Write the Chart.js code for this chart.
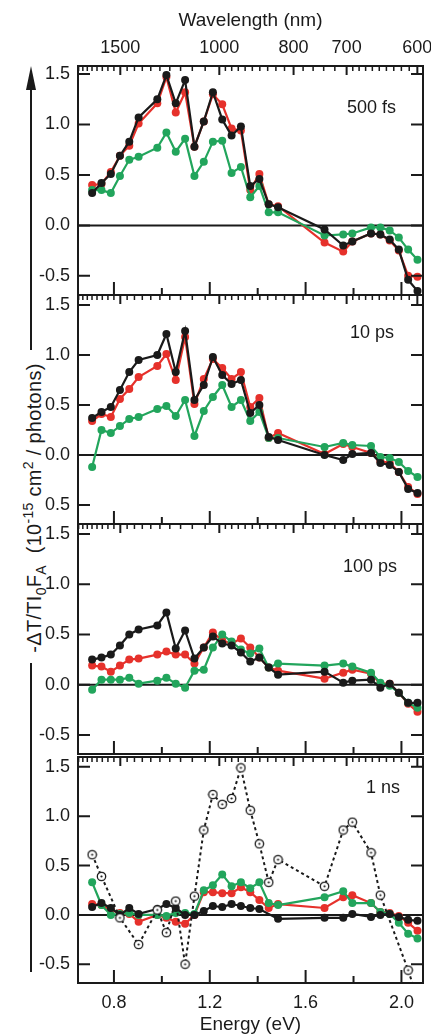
<!DOCTYPE html>
<html>
<head>
<meta charset="utf-8">
<title>Transient absorption spectra</title>
<script src="https://cdn.jsdelivr.net/npm/chart.js@4.4.1/dist/chart.umd.min.js"></script>
<style>
    html, body { margin: 0; padding: 0; background: #fff; }
    #page {
        position: relative;
        width: 431px;
        height: 1034px;
        overflow: hidden;
        font-family: "Liberation Sans", Arial, sans-serif;
        color: #1a1a1a;
    }
    #page canvas { position: absolute; left: 0; }
    #y-arrow { position: absolute; left: 0; top: 0; }
    #y-title {
        position: absolute;
        left: 34px;
        top: 508px;
        transform: translate(-50%, -50%) rotate(-90deg);
        white-space: nowrap;
        font-size: 20px;
        letter-spacing: 0.3px;
        line-height: 1;
    }
    #y-title sub, #y-title sup { font-size: 14px; line-height: 0; }
</style>
</head>
<body>
<div id="page">
    <svg id="y-arrow" width="60" height="1034">
        <polygon points="31,66 26,90 36,90" fill="#1a1a1a"/>
        <line x1="31" y1="88" x2="31" y2="350" stroke="#1a1a1a" stroke-width="2"/>
        <line x1="31" y1="663" x2="31" y2="972" stroke="#1a1a1a" stroke-width="2"/>
    </svg>
    <div id="y-title">-ΔT/TI<sub>0</sub>F<sub>A</sub>&nbsp;&nbsp;(10<sup>-15</sup> cm<sup>2</sup> / photons)</div>
    <canvas id="panel-0" width="431" height="299" style="top:0px"></canvas>
    <canvas id="panel-1" width="431" height="237" style="top:291px"></canvas>
    <canvas id="panel-2" width="431" height="238" style="top:520px"></canvas>
    <canvas id="panel-3" width="431" height="284" style="top:750px"></canvas>
</div>
<script>
// Probe energies (eV) shared by every spectrum
const energy = [0.709, 0.748, 0.787, 0.825, 0.864, 0.903, 0.981, 1.019, 1.058, 1.097,
    1.136, 1.175, 1.213, 1.252, 1.291, 1.330, 1.369, 1.407, 1.446, 1.485,
    1.679, 1.757, 1.795, 1.873, 1.912, 1.951, 1.989, 2.028, 2.067];

// 500 fs
const fs500Black = [0.32, 0.42, 0.51, 0.69, 0.83, 1.07, 1.25, 1.49, 1.21, 1.44, 0.78, 1.03, 1.32, 1.05, 0.89, 0.98, 0.39, 0.46, 0.21, 0.18, -0.04, -0.20, -0.16, -0.08, -0.09, -0.14, -0.24, -0.54, -0.65];
const fs500Red   = [0.40, 0.41, 0.53, 0.69, 0.79, 1.01, 1.21, 1.47, 1.12, 1.32, 0.78, 1.03, 1.30, 1.20, 0.96, 0.94, 0.35, 0.51, 0.21, 0.19, -0.17, -0.26, -0.16, -0.08, -0.09, -0.15, -0.25, -0.50, -0.51];
const fs500Green = [0.35, 0.35, 0.32, 0.49, 0.65, 0.68, 0.77, 0.92, 0.73, 0.86, 0.49, 0.63, 0.83, 0.84, 0.52, 0.58, 0.28, 0.39, 0.13, 0.13, -0.10, -0.09, -0.08, -0.02, -0.02, -0.05, -0.12, -0.24, -0.34];

// 10 ps
const ps10Black = [0.37, 0.43, 0.48, 0.65, 0.83, 0.95, 1.00, 1.21, 0.83, 1.24, 0.55, 0.70, 0.98, 0.80, 0.71, 0.75, 0.42, 0.50, 0.18, 0.15, 0.00, -0.05, 0.01, 0.02, -0.08, -0.10, -0.17, -0.34, -0.38];
const ps10Red   = [0.34, 0.41, 0.38, 0.56, 0.66, 0.78, 0.89, 1.01, 0.75, 1.18, 0.51, 0.76, 0.96, 0.87, 0.76, 0.83, 0.48, 0.57, 0.17, 0.22, 0.01, 0.11, 0.08, 0.02, -0.06, -0.08, -0.17, -0.32, -0.39];
const ps10Green = [-0.12, 0.25, 0.22, 0.29, 0.36, 0.38, 0.46, 0.49, 0.39, 0.55, 0.19, 0.44, 0.58, 0.70, 0.48, 0.55, 0.34, 0.43, 0.17, 0.17, 0.08, 0.12, 0.10, 0.09, -0.02, -0.03, -0.07, -0.16, -0.22];

// 100 ps
const ps100Black = [0.25, 0.27, 0.30, 0.39, 0.50, 0.55, 0.59, 0.72, 0.36, 0.54, 0.26, 0.37, 0.48, 0.41, 0.39, 0.32, 0.23, 0.27, 0.17, 0.10, 0.13, 0.02, 0.04, 0.05, -0.03, 0.01, -0.08, -0.18, -0.18];
const ps100Red   = [0.19, 0.18, 0.13, 0.19, 0.25, 0.26, 0.30, 0.33, 0.30, 0.30, 0.21, 0.37, 0.52, 0.44, 0.41, 0.46, 0.37, 0.27, 0.17, 0.14, 0.06, 0.12, 0.15, 0.11, 0.01, 0.01, -0.08, -0.19, -0.27];
const ps100Green = [-0.05, 0.05, 0.05, 0.05, 0.07, 0.01, 0.04, 0.07, 0.01, -0.03, 0.14, 0.15, 0.37, 0.50, 0.43, 0.35, 0.31, 0.36, 0.17, 0.21, 0.19, 0.21, 0.18, 0.12, 0.02, -0.01, -0.08, -0.18, -0.23];

// 1 ns
const ns1Black = [0.08, 0.12, 0.07, 0.00, 0.07, 0.01, 0.06, 0.11, 0.07, 0.00, 0.00, 0.04, 0.09, 0.08, 0.11, 0.09, 0.07, 0.06, null, -0.04, -0.03, -0.03, 0.01, -0.02, 0.00, 0.01, -0.02, -0.05, -0.06];
const ns1Red   = [0.11, 0.10, 0.05, 0.02, 0.01, -0.07, 0.00, -0.03, -0.07, -0.09, 0.00, 0.23, 0.23, 0.22, 0.22, 0.28, 0.23, 0.15, 0.07, 0.11, 0.07, 0.18, 0.20, 0.12, 0.03, 0.02, -0.01, -0.08, -0.16];
const ns1Green = [0.33, 0.10, 0.00, 0.01, 0.02, 0.00, 0.00, -0.01, 0.02, 0.02, 0.01, 0.25, 0.30, 0.41, 0.29, 0.33, 0.27, 0.33, 0.12, 0.10, 0.18, 0.24, 0.12, 0.12, 0.03, 0.01, -0.08, -0.19, -0.24];
const ns1Open  = [0.61, 0.39, null, -0.03, null, -0.30, 0.05, -0.18, 0.14, -0.50, 0.19, 0.86, 1.22, 1.12, 1.18, 1.49, 1.06, 0.72, 0.33, 0.56, 0.29, 0.86, 0.94, 0.63, 0.20, null, null, -0.56, -0.85];

const panelNames = ['500 fs', '10 ps', '100 ps', '1 ns'];

// Tick values and labels
const yTicks = [-0.5, 0, 0.5, 1.0, 1.5];
const yTickLabels = [
    ['-0.5', '0.0', '0.5', '1.0', '1.5'],
    ['0.5', '0.0', '0.5', '1.0', '1.5'],
    ['-0.5', '0.0', '0.5', '1.0', '1.5'],
    ['-0.5', '0.0', '0.5', '1.0', '1.5']
];
const energyLabelTicks = [0.8, 1.2, 1.6, 2.0];
const energyMinorTicks = [1.0, 1.4, 1.8];
const wavelengthMajor = [1500, 1000, 800, 700, 600];
const wavelengthMinor = [1900, 1850, 1800, 1750, 1700, 1650, 1600, 1550, 1450, 1400, 1350, 1300,
    1250, 1200, 1150, 1100, 1050, 980, 960, 940, 920, 900, 880, 860, 840, 820, 780, 760, 740,
    720, 690, 680, 670, 660, 650, 640, 630, 620, 610];

const INK = '#1a1a1a';
const RED = '#e6312b';
const GREEN = '#22a55c';
const FONT = '"Liberation Sans", Arial, sans-serif';
const HC = 1239.84; // eV * nm

const X_MIN = 0.65;
const X_MAX = 2.09;

/**
 * Panel layout: y range, padding and where the time label goes
 */
const panelLayout = [
    { yMax: 1.58, padding: { top: 0, bottom: 4, left: 0, right: 8 }, labelX: 347, labelDY: 42 },
    { yMax: 1.60, padding: { top: 4, bottom: 4, left: 0, right: 8 }, labelX: 350, labelDY: 38 },
    { yMax: 1.60, padding: { top: 4, bottom: 4, left: 0, right: 8 }, labelX: 343, labelDY: 43 },
    { yMax: 1.60, padding: { top: 4, bottom: 0, left: 0, right: 8 }, labelX: 366, labelDY: 31 }
];
const Y_MIN = -0.69;

/**
 * Pin an axis to a fixed thickness and stop it from pushing the plot area around
 */
function pinAxis(size, vertical) {
    return s => {
        if (vertical) {
            s.width = size;
        } else {
            s.height = size;
        }
        s.paddingTop = 0;
        s.paddingBottom = 0;
        s.paddingLeft = 0;
        s.paddingRight = 0;
    };
}

/**
 * Open circle with a centre dot, used as the 1 ns reference marker
 */
function ringDot() {
    const c = document.createElement('canvas');
    c.width = 11;
    c.height = 11;
    const g = c.getContext('2d');
    g.fillStyle = '#fff';
    g.strokeStyle = INK;
    g.lineWidth = 1.3;
    g.beginPath();
    g.arc(5.5, 5.5, 4.2, 0, Math.PI * 2);
    g.fill();
    g.stroke();
    g.fillStyle = INK;
    g.beginPath();
    g.arc(5.5, 5.5, 1.1, 0, Math.PI * 2);
    g.fill();
    return c;
}

function toPoints(values) {
    return energy.map((e, i) => ({ x: e, y: values[i] })).filter(p => p.y !== null);
}

function series(values, color) {
    return {
        data: toPoints(values),
        borderColor: color,
        backgroundColor: color,
        pointBackgroundColor: color,
        pointBorderColor: color,
        pointRadius: 4,
        pointBorderWidth: 0,
        borderWidth: 2.2,
        tension: 0
    };
}

/**
 * Frame, zero line, inward ticks and the time label of each panel
 */
const framePlugin = {
    id: 'frame',
    beforeDatasetsDraw(chart) {
        const { ctx, chartArea: a, scales: { y } } = chart;
        const y0 = y.getPixelForValue(0);
        ctx.save();
        ctx.strokeStyle = INK;
        ctx.lineWidth = 2;
        ctx.beginPath();
        ctx.moveTo(a.left, y0);
        ctx.lineTo(a.right, y0);
        ctx.stroke();
        ctx.restore();
    },
    afterDatasetsDraw(chart, args, opts) {
        const { ctx, chartArea: a, scales: { x, y } } = chart;
        ctx.save();
        ctx.strokeStyle = INK;
        ctx.lineWidth = 2;
        ctx.strokeRect(a.left, a.top, a.right - a.left, a.bottom - a.top);

        ctx.beginPath();
        // y ticks on both sides
        yTicks.forEach(v => {
            const py = y.getPixelForValue(v);
            ctx.moveTo(a.left, py); ctx.lineTo(a.left + 12, py);
            ctx.moveTo(a.right, py); ctx.lineTo(a.right - 12, py);
        });
        // energy ticks along the bottom
        energyLabelTicks.forEach(v => {
            const px = x.getPixelForValue(v);
            ctx.moveTo(px, a.bottom); ctx.lineTo(px, a.bottom - 13);
        });
        energyMinorTicks.forEach(v => {
            const px = x.getPixelForValue(v);
            ctx.moveTo(px, a.bottom); ctx.lineTo(px, a.bottom - 7);
        });
        // wavelength ticks along the top
        wavelengthMajor.forEach(w => {
            const px = x.getPixelForValue(HC / w);
            ctx.moveTo(px, a.top); ctx.lineTo(px, a.top + 9);
        });
        ctx.stroke();
        ctx.lineWidth = 1.5;
        ctx.beginPath();
        wavelengthMinor.forEach(w => {
            const px = x.getPixelForValue(HC / w);
            ctx.moveTo(px, a.top); ctx.lineTo(px, a.top + 5);
        });
        ctx.stroke();

        ctx.fillStyle = INK;
        ctx.font = '18px ' + FONT;
        ctx.textBaseline = 'middle';
        ctx.textAlign = 'left';
        ctx.fillText(opts.label, opts.labelX, a.top + opts.labelDY);
        ctx.restore();
    }
};

/**
 * Build one of the four stacked panels
 */
function makePanel(index, black, red, green, open) {
    const layout = panelLayout[index];
    const isTop = index === 0;
    const isBottom = index === panelLayout.length - 1;

    const datasets = [];
    if (open) {
        datasets.push({
            data: toPoints(open),
            borderColor: INK,
            borderWidth: 2,
            borderDash: [3, 3],
            pointStyle: ringDot(),
            pointRadius: 5,
            tension: 0
        });
    }
    datasets.push(series(black, INK), series(green, GREEN), series(red, RED));

    const wavelengthAll = wavelengthMajor.concat(wavelengthMinor);

    return new Chart(document.getElementById('panel-' + index), {
        type: 'line',
        data: { datasets },
        plugins: [framePlugin],
        options: {
            responsive: false,
            maintainAspectRatio: false,
            animation: false,
            devicePixelRatio: 1,
            layout: { padding: layout.padding },
            plugins: {
                legend: { display: false },
                tooltip: { enabled: false },
                frame: {
                    label: panelNames[index],
                    labelX: layout.labelX,
                    labelDY: layout.labelDY
                }
            },
            scales: {
                x: {
                    type: 'linear',
                    position: 'bottom',
                    min: X_MIN,
                    max: X_MAX,
                    display: isBottom,
                    afterBuildTicks: s => { s.ticks = energyLabelTicks.map(v => ({ value: v })); },
                    afterFit: pinAxis(isBottom ? 51 : 0, false),
                    grid: { display: false, drawTicks: false },
                    border: { display: false },
                    ticks: {
                        padding: 9,
                        color: INK,
                        font: { family: FONT, size: 18 },
                        autoSkip: false,
                        maxRotation: 0,
                        callback: v => v.toFixed(1)
                    },
                    title: {
                        display: true,
                        text: 'Energy (eV)',
                        color: INK,
                        font: { family: FONT, size: 19, lineHeight: 1 },
                        padding: { top: 0, bottom: 0 }
                    }
                },
                wl: {
                    type: 'linear',
                    position: 'top',
                    min: X_MIN,
                    max: X_MAX,
                    display: isTop,
                    afterBuildTicks: s => { s.ticks = wavelengthAll.map(w => ({ value: HC / w })); },
                    afterFit: pinAxis(isTop ? 66 : 0, false),
                    grid: { display: false, drawTicks: false },
                    border: { display: false },
                    ticks: {
                        padding: 7,
                        color: INK,
                        font: { family: FONT, size: 18 },
                        autoSkip: false,
                        maxRotation: 0,
                        callback: (v, i) => (i < wavelengthMajor.length ? String(wavelengthAll[i]) : '')
                    },
                    title: {
                        display: true,
                        text: 'Wavelength (nm)',
                        color: INK,
                        font: { family: FONT, size: 19, lineHeight: 1 },
                        padding: { top: 11, bottom: 0 }
                    }
                },
                y: {
                    type: 'linear',
                    position: 'left',
                    min: Y_MIN,
                    max: layout.yMax,
                    afterBuildTicks: s => { s.ticks = yTicks.map(v => ({ value: v })); },
                    afterFit: pinAxis(78, true),
                    grid: { display: false, drawTicks: false },
                    border: { display: false },
                    ticks: {
                        padding: 8,
                        color: INK,
                        font: { family: FONT, size: 18 },
                        callback: (v, i) => yTickLabels[index][i]
                    }
                }
            }
        }
    });
}

makePanel(0, fs500Black, fs500Red, fs500Green);
makePanel(1, ps10Black, ps10Red, ps10Green);
makePanel(2, ps100Black, ps100Red, ps100Green);
makePanel(3, ns1Black, ns1Red, ns1Green, ns1Open);
</script>
</body>
</html>
